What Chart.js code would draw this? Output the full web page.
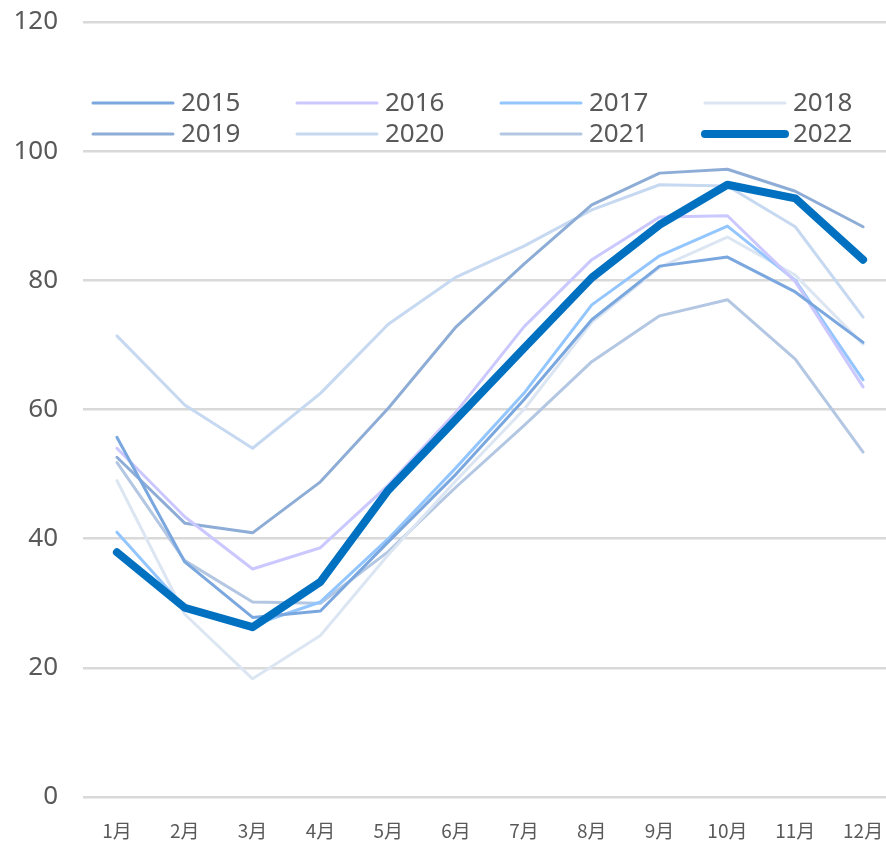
<!DOCTYPE html>
<html>
<head>
<meta charset="utf-8">
<script src="https://cdn.jsdelivr.net/npm/chart.js@4.4.1/dist/chart.umd.min.js"></script>
<style>
  html, body { margin: 0; padding: 0; background: #fff; overflow: hidden; }
  canvas { display: block; }
</style>
</head>
<body>
<canvas id="chart" width="897" height="842"></canvas>
<script>
const months = ['1月', '2月', '3月', '4月', '5月', '6月', '7月', '8月', '9月', '10月', '11月', '12月'];
const years = ['2015', '2016', '2017', '2018', '2019', '2020', '2021', '2022'];
const yTicks = [0, 20, 40, 60, 80, 100, 120];

const v2015 = [55.7, 36.4, 27.8, 28.8, 39.5, 50.0, 61.5, 73.9, 82.2, 83.6, 78.2, 70.4];
const v2016 = [54.0, 43.4, 35.3, 38.6, 48.3, 59.6, 72.8, 83.2, 89.8, 90.0, 79.8, 63.5];
const v2017 = [41.0, 29.3, 26.6, 30.2, 40.0, 51.0, 62.5, 76.2, 83.8, 88.4, 80.0, 64.6];
const v2018 = [49.0, 28.3, 18.3, 25.0, 37.5, 49.0, 60.0, 73.5, 82.0, 86.7, 80.8, 70.1];
const v2019 = [52.6, 42.4, 40.9, 48.8, 60.2, 72.8, 82.5, 91.7, 96.6, 97.2, 93.8, 88.3];
const v2020 = [71.4, 60.7, 54.0, 62.5, 73.2, 80.5, 85.3, 90.9, 94.8, 94.6, 88.3, 74.3];
const v2021 = [51.8, 36.6, 30.2, 30.0, 38.0, 48.0, 57.5, 67.4, 74.5, 77.0, 67.8, 53.4];
const v2022 = [37.9, 29.3, 26.3, 33.3, 47.5, 58.5, 69.5, 80.4, 88.6, 94.8, 92.7, 83.2];

const seriesValues = [v2015, v2016, v2017, v2018, v2019, v2020, v2021, v2022];
const seriesColors = ['#7BA7DF', '#CBC8FF', '#93C6FF', '#DCE6F3', '#8EADD6', '#C6D9F1', '#B3C7E3', '#0070C0'];

const datasets = years.map((y, i) => ({
  label: y,
  data: seriesValues[i],
  borderColor: seriesColors[i],
  backgroundColor: seriesColors[i],
  borderWidth: y === '2022' ? 8 : 3,
  borderCapStyle: 'round',
  borderJoinStyle: 'round',
  pointRadius: 0,
  tension: 0,
  fill: false,
  order: y === '2022' ? 0 : 1
}));

// legend drawn inside the plot, 4 columns x 2 rows like the original
const inlineLegend = {
  id: 'inlineLegend',
  afterDraw(chart) {
    const ctx = chart.ctx;
    const colX = [93, 297, 501, 705];
    const rowY = [103, 134];
    ctx.save();
    ctx.font = '26px "Noto Sans", sans-serif';
    ctx.textBaseline = 'middle';
    ctx.textAlign = 'left';
    chart.data.datasets.forEach((ds, i) => {
      const x = colX[i % 4], y = rowY[Math.floor(i / 4)];
      ctx.strokeStyle = ds.borderColor;
      ctx.lineWidth = ds.borderWidth;
      ctx.lineCap = 'round';
      ctx.beginPath();
      ctx.moveTo(x, y);
      ctx.lineTo(x + 80, y);
      ctx.stroke();
      ctx.fillStyle = '#595959';
      ctx.fillText(ds.label, x + 88, y + 1);
    });
    ctx.restore();
  }
};

new Chart(document.getElementById('chart'), {
  type: 'line',
  data: { labels: months, datasets: datasets },
  plugins: [inlineLegend],
  options: {
    responsive: false,
    animation: false,
    layout: { padding: { top: 22, right: 0, left: 0, bottom: 0 } },
    plugins: { legend: { display: false }, tooltip: { enabled: false } },
    scales: {
      x: {
        offset: true,
        // invisible tick marks give the label gap without adding side padding
        grid: { display: true, drawOnChartArea: false, drawTicks: true, tickLength: 22, tickColor: 'rgba(0,0,0,0)' },
        border: { display: false },
        ticks: { color: '#595959', font: { family: '"Noto Sans CJK JP", sans-serif', size: 19 }, padding: 0, maxRotation: 0, autoSkip: false },
        afterFit(scale) { scale.height = 45; }
      },
      y: {
        min: 0, max: 120,
        afterBuildTicks(scale) { scale.ticks = yTicks.map(v => ({ value: v })); },
        grid: { color: '#D9D9D9', lineWidth: 2.5, drawTicks: true, tickLength: 25, tickColor: 'rgba(0,0,0,0)' },
        border: { display: false },
        ticks: { color: '#595959', font: { family: '"Noto Sans", sans-serif', size: 26 }, padding: 0 },
        afterFit(scale) { scale.width = 83; }
      }
    }
  }
});
</script>
</body>
</html>
